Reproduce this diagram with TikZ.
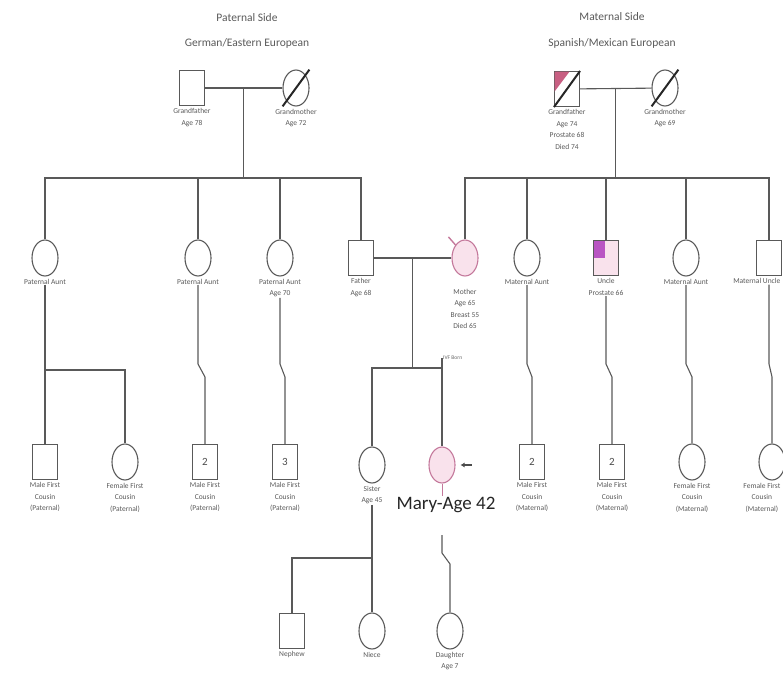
\documentclass[tikz,border=0pt]{standalone}
\usepackage{fontspec}
\setmainfont{Carlito}
\usetikzlibrary{positioning,shapes.geometric,calc,arrows.meta}

\definecolor{pinkfill}{RGB}{249,226,236}
\definecolor{pinkline}{RGB}{196,120,155}
\definecolor{gfpink}{RGB}{200,95,130}
\definecolor{unclepink}{RGB}{185,85,195}

\begin{document}
\begin{tikzpicture}[
  x=1pt, y=-1pt,
  male/.style={rectangle, draw=black!65, line width=1.1pt, minimum width=25pt,
               minimum height=35pt, inner sep=0pt, text=black!70,
               font=\fontsize{11}{11}\selectfont},
  female/.style={ellipse, draw=black!65, line width=1.1pt, minimum width=26pt,
                 minimum height=36pt, inner sep=0pt},
  affected/.style={fill=pinkfill, draw=pinkline},
  kin/.style={draw=black!65, line width=1.1pt},
  slash/.style={draw=black!85, line width=2pt},
  who/.style={font=\fontsize{7.5}{11.5}\selectfont, text=black!65, align=center,
              inner sep=0.5pt, below=2pt of #1},
  side/.style={font=\fontsize{11.5}{11.5}\selectfont, text=black!65},
  note/.style={font=\fontsize{5.5}{6}\selectfont, text=black!60, anchor=west, inner sep=1pt},
  proband/.style={font=\fontsize{19}{19}\selectfont, text=black!85, inner sep=1pt},
]
\useasboundingbox (0,0) rectangle (783,677);

% ─── Side headers ─────────────────────────────────────────────────────────
\node[side] (ptitle)  at (247,18) {Paternal Side};
\node[side] (porigin) at (247,43) {German/Eastern European};
\node[side] (mtitle)  at (612,17) {Maternal Side};
\node[side] (morigin) at (612,43) {Spanish/Mexican European};

% ─── Generation I ─────────────────────────────────────────────────────────
\node[male]   (pgf) at (192,88) {};
\node[female] (pgm) at (296,88) {};
\node[who=pgf] (l-pgf) {Grandfather\\Age 78};
\node[who=pgm] (l-pgm) {Grandmother\\Age 72};

\node[male]   (mgf) at (567,89) {};
\node[female] (mgm) at (665,88) {};
\node[who=mgf] (l-mgf) {Grandfather\\Age 74\\Prostate 68\\Died 74};
\node[who=mgm] (l-mgm) {Grandmother\\Age 69};

% partly affected grandfather, deceased marks
\fill[gfpink] ([shift={(0.6,0.6)}]mgf.north west) -- ++(15,0) -- ++(-15,20) -- cycle;
\draw[slash] ($(pgm.south west)!-0.2!(pgm.north east)$) -- ($(pgm.north east)!-0.2!(pgm.south west)$);
\draw[slash] ($(mgm.south west)!-0.2!(mgm.north east)$) -- ($(mgm.north east)!-0.2!(mgm.south west)$);
\draw[slash] (mgf.south west) -- (mgf.north east);

% ─── Generation II ────────────────────────────────────────────────────────
\node[female] (pa1) at (45,258)  {};
\node[female] (pa2) at (198,258) {};
\node[female] (pa3) at (280,258) {};
\node[male]   (fa)  at (361,258) {};
\node[female, affected] (mo) at (465,258) {};
\node[female] (ma1) at (527,258) {};
\node[male, fill=pinkfill] (mu1) at (606,258) {};
\node[female] (ma2) at (686,258) {};
\node[male]   (mu2) at (769,258) {};

\node[who=pa1] (l-pa1) {Paternal Aunt};
\node[who=pa2] (l-pa2) {Paternal Aunt};
\node[who=pa3] (l-pa3) {Paternal Aunt\\Age 70};
\node[who=fa]  (l-fa)  {Father\\Age 68};
\node[who=mo, below=12pt of mo] (l-mo) {Mother\\Age 65\\Breast 55\\Died 65};
\node[who=ma1] (l-ma1) {Maternal Aunt};
\node[who=mu1] (l-mu1) {Uncle\\Prostate 66};
\node[who=ma2] (l-ma2) {Maternal Aunt};
\node[who=mu2, anchor=north east, xshift=12pt] (l-mu2) {Maternal Uncle};

\fill[unclepink] ([shift={(0.6,0.6)}]mu1.north west) rectangle ([shift={(-1,0)}]mu1.center);
\draw[pinkline, line width=1.4pt] ([shift={(-7,-8)}]mo.north west) -- (mo.north west);

% ─── Generation III ───────────────────────────────────────────────────────
\node[male]   (pc1) at (45,462)  {};
\node[female] (pc2) at (125,462) {};
\node[male]   (pc3) at (205,462) {2};
\node[male]   (pc4) at (285,462) {3};
\node[female] (sis) at (372,465) {};
\node[female, affected] (mary) at (442,465) {};
\node[male]   (mc1) at (532,462) {2};
\node[male]   (mc2) at (612,462) {2};
\node[female] (mc3) at (692,462) {};
\node[female] (mc4) at (772,462) {};

\node[who=pc1] (l-pc1) {Male First\\Cousin\\(Paternal)};
\node[who=pc2] (l-pc2) {Female First\\Cousin\\(Paternal)};
\node[who=pc3] (l-pc3) {Male First\\Cousin\\(Paternal)};
\node[who=pc4] (l-pc4) {Male First\\Cousin\\(Paternal)};
\node[who=sis] (l-sis) {Sister\\Age 45};
\node[proband] (l-mary) at (446,505) {Mary-Age 42};
\node[who=mc1] (l-mc1) {Male First\\Cousin\\(Maternal)};
\node[who=mc2] (l-mc2) {Male First\\Cousin\\(Maternal)};
\node[who=mc3] (l-mc3) {Female First\\Cousin\\(Maternal)};
\node[who=mc4, anchor=north east, xshift=9pt] (l-mc4) {Female First\\Cousin\\(Maternal)};

\draw[-{Latex[length=4pt,width=5pt]}, line width=1.8pt, black!70]
  ([xshift=16pt]mary.east) -- ([xshift=5pt]mary.east);

% ─── Generation IV ────────────────────────────────────────────────────────
\node[male]   (nep) at (292,631) {};
\node[female] (nie) at (372,631) {};
\node[female] (dau) at (450,631) {};
\node[who=nep] (l-nep) {Nephew};
\node[who=nie] (l-nie) {Niece};
\node[who=dau] (l-dau) {Daughter\\Age 7};

% ─── Connectors ───────────────────────────────────────────────────────────
% paternal grandparents and their children
\coordinate (pmar) at ($(pgf.east)!0.5!(pgm.west)$);
\coordinate (psib) at (pmar |- 0,178);
\draw[kin] (pgf) -- (pgm);
\draw[kin] (pmar) -- (psib);
\draw[kin] (pa1.north) -- (pa1.north |- psib) -- (fa.north |- psib) -- (fa.north);
\foreach \k in {pa2,pa3}
  \draw[kin] (\k.north) -- (\k.north |- psib);

% maternal grandparents and their children
\coordinate (mmar) at ($(mgf.east)!0.5!(mgm.west)$);
\coordinate (msib) at (mmar |- 0,178);
\draw[kin] (mgf) -- (mgm);
\draw[kin] (mmar) -- (msib);
\draw[kin] (mo.north) -- (mo.north |- msib) -- (mu2.north |- msib) -- (mu2.north);
\foreach \k in {ma1,mu1,ma2}
  \draw[kin] (\k.north) -- (\k.north |- msib);

% aunts and uncles to cousins
\draw[kin] (l-pa1.south) -- (pc1.north);
\coordinate (pa1b) at (l-pa1.south |- 0,370);
\draw[kin] (pa1b) -- (pc2.north |- pa1b) -- (pc2.north);
\foreach \a/\c in {pa2/pc3, pa3/pc4, ma1/mc1, mu1/mc2, ma2/mc3}
  \draw[kin] (l-\a.south) -- (l-\a.south |- 0,364) -- (\c.north |- 0,377) -- (\c.north);
\draw[kin] (mu2.south |- l-mu2.south) -- (mu2.south |- 0,364) -- (mc4.north |- 0,377) -- (mc4.north);

% parents to sister and Mary
\coordinate (fmar) at ($(fa.east)!0.5!(mo.west)$);
\coordinate (fsib) at (fmar |- 0,368);
\draw[kin] (fa) -- (mo);
\draw[kin] (fmar) -- (fsib);
\draw[kin] (sis.north) -- (sis.north |- fsib) -- (mary.north |- fsib);
\coordinate (mtop) at (mary.north |- 0,358);
\draw[kin] (mtop) -- (mary.north);
\node[note] (ivf) at (mtop) {IVF Born};

% sister to nephew and niece
\draw[kin] (l-sis.south) -- (nie.north);
\coordinate (sisb) at (l-sis.south |- 0,558);
\draw[kin] (sisb) -- (nep.north |- sisb) -- (nep.north);

% Mary to daughter
\draw[pinkline, line width=1pt] (mary.south) -- (l-mary.north -| mary.south);
\coordinate (mdesc) at (442,535);
\draw[kin] (mdesc) -- (mdesc |- 0,553) -- (dau.north |- 0,564) -- (dau.north);

\end{tikzpicture}
\end{document}
